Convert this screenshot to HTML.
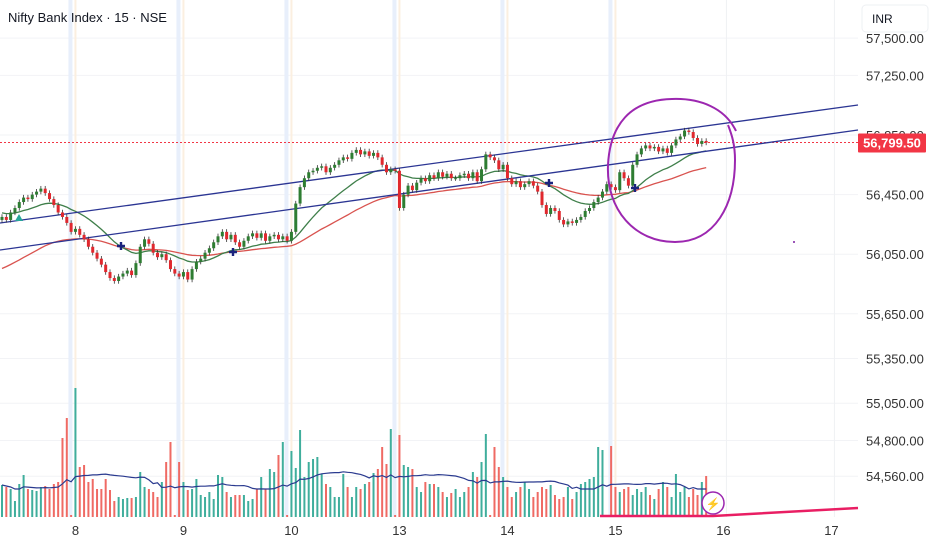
<!DOCTYPE html>
<html><head><meta charset="utf-8">
<style>
html,body{margin:0;padding:0;background:#fff;width:932px;height:550px;overflow:hidden;font-family:"Liberation Sans",sans-serif}
svg{display:block}
</style></head>
<body>
<svg id="chart" width="932" height="550" xmlns="http://www.w3.org/2000/svg">
<text x="8" y="22" font-size="13" fill="#131722">Nifty Bank Index · 15 · NSE</text>
<rect x="862" y="5" width="66" height="27" rx="4" fill="#fff" stroke="#eef0f3"/>
<text x="872" y="23" font-size="12" fill="#131722">INR</text>
</svg>
<script>
const closes=[56300,56280,56330,56360,56400,56430,56420,56450,56470,56490,56460,
56420,56380,56330,56300,56260,56200,56220,56180,56150,56100,
56060,56020,55980,55930,55890,55870,55900,55920,55940,55910,55990,56100,
56150,56120,56060,56030,56050,56010,55950,55920,55900,55930,55880,55950,
56000,56020,56060,56090,56130,56170,56200,56150,56180,56130,56100,56140,
56170,56190,56160,56190,56140,56170,56180,56150,56170,56140,56200,
56390,56500,56560,56600,56610,56630,56640,56600,56630,
56650,56680,56700,56690,56730,56750,56720,56740,56710,56730,56700,56650,
56600,56620,56610,56360,56450,56510,56480,
56530,56560,56540,56580,56560,56600,56570,56590,56560,
56560,56580,56590,56560,56600,56540,56620,56720,56700,56680,56620,
56650,56560,56520,56540,56500,56520,56540,56510,56470,56380,
56320,56360,56340,56280,56250,56270,56260,56280,56300,56340,56360,
56400,56430,56470,56520,56500,56480,56600,56560,56510,56650,56720,56760,
56780,56760,56770,56740,56760,56730,56780,56820,56840,56880,56870,
56830,56790,56810,56799.5];
const volumes=[32,30,28,16,33,42,28,27,26,30,
31,28,33,35,79,99,2,129,50,52,
35,38,28,28,38,27,16,20,18,19,
19,20,45,30,28,25,20,35,55,75,
2,55,35,27,28,38,22,20,25,18,
42,40,25,20,22,22,22,16,18,28,
40,28,48,45,62,75,2,66,49,87,
40,55,58,60,43,33,30,20,20,43,
30,20,30,28,33,35,44,48,70,53,
88,2,82,52,50,48,30,25,35,33,
33,30,25,20,24,28,20,25,30,45,
40,55,83,2,70,50,40,30,20,25,
30,35,28,20,25,30,28,32,22,18,
20,30,18,25,33,35,38,40,70,67,
2,71,30,25,28,30,22,28,25,30,
22,18,28,35,30,20,43,25,30,20,
28,22,35,41];
const priceTicks=[57500,57250,56850,56450,56050,55650,55350,55050,54800,54560];
const tickLabels=["57,500.00","57,250.00","56,850.00","56,450.00","56,050.00","55,650.00","55,350.00","55,050.00","54,800.00","54,560.00"];
const dayLabels=["8","9","10","13","14","15","16","17"];
const lastPrice=56799.5;

const svg=document.getElementById('chart');
const NS='http://www.w3.org/2000/svg';
const xOf=i=>2+i*4.32;
const yOf=p=>135+(56850-p)*0.149;
const vBase=517, vScale=1;
const vy=v=>vBase-v*vScale;
function mk(tag,attrs,parent){const e=document.createElementNS(NS,tag);for(const k in attrs)e.setAttribute(k,attrs[k]);(parent||svg).appendChild(e);return e;}
const first=svg.firstChild;
const bg=document.createElementNS(NS,'g');svg.insertBefore(bg,first);

// grid
priceTicks.forEach((p,k)=>{
 const l=mk('line',{x1:0,x2:858,y1:yOf(p),y2:yOf(p),stroke:'#f2f3f6','stroke-width':1},bg);
 
 
 const t=mk('text',{x:866,y:yOf(p)+5,'font-size':13,fill:'#333'});
 t.textContent=tickLabels[k];
 
 
});
dayLabels.forEach((d,k)=>{
 const x=xOf(17+25*k);
 if(k<6){
  const b=mk('rect',{x:x-7,y:0,width:4,height:517,fill:'#e8effb'},bg);
  
  
  const o=mk('rect',{x:x-1,y:0,width:2,height:517,fill:'#fbefe0'},bg);
  
  
 } else {
  const g=mk('line',{x1:x+3,x2:x+3,y1:0,y2:517,stroke:'#f0f1f4'},bg);
  
  
 }
 const t=mk('text',{x:x,y:535,'font-size':13,fill:'#333','text-anchor':'middle'});
 t.textContent=d;
 
 
});

// last price line
const pl=mk('line',{x1:0,x2:858,y1:yOf(lastPrice),y2:yOf(lastPrice),stroke:'#f23645','stroke-width':1,'stroke-dasharray':'2,2'});


const pb=mk('rect',{x:858,y:yOf(lastPrice)-9,width:68,height:19,fill:'#f23645',rx:1});


const pt=mk('text',{x:892,y:yOf(lastPrice)+5,'font-size':13,'font-weight':'bold',fill:'#fff','text-anchor':'middle'});
pt.textContent='56,799.50';



// volume
volumes.forEach((v,i)=>{
 const o=i>0?closes[i-1]:closes[0];
 const up=closes[i]>=o;
 const r=mk('rect',{x:xOf(i)-1,y:vy(v),width:2,height:v*vScale,fill:up?'#3fae9c':'#ef6a64'});
 
 
});
let vp='';
volumes.forEach((v,i)=>{const s=volumes.slice(Math.max(0,i-19),i+1);const m=s.reduce((a,b)=>a+b,0)/s.length;vp+=(i?'L':'M')+xOf(i).toFixed(1)+','+vy(Math.max(m,28)).toFixed(1);});
const vl=mk('path',{d:vp,fill:'none',stroke:'#2a3a8f','stroke-width':1.2});



// EMAs
function ema(n,seed){let e=seed,out=[];closes.forEach(c=>{e=e+(c-e)*2/(n+1);out.push(e);});return out;}
const e20=ema(20,56330), e50=ema(50,55940);
[[e50,'#d9534f','ema-50-line'],[e20,'#3f7f4a','ema-20-line']].forEach(([arr,c,n])=>{
 let d='';arr.forEach((v,i)=>{d+=(i?'L':'M')+xOf(i).toFixed(1)+','+yOf(v).toFixed(1);});
 const p=mk('path',{d:d,fill:'none',stroke:c,'stroke-width':1.3});
 
 
});

// trend lines
const tl1=mk('line',{x1:0,y1:223,x2:858,y2:105,stroke:'#2b3593','stroke-width':1.3});


const tl2=mk('line',{x1:0,y1:250,x2:858,y2:130,stroke:'#2b3593','stroke-width':1.3});



// candles
closes.forEach((c,i)=>{
 const o=i>0?closes[i-1]:closes[0]-20;
 const up=c>=o;const col=up?'#2e7d32':'#e0282e';
 const hi=Math.max(o,c)+18, lo=Math.min(o,c)-18;
 const w=mk('line',{x1:xOf(i),x2:xOf(i),y1:yOf(hi),y2:yOf(lo),stroke:'#333','stroke-width':0.8});
 
 
 const top=yOf(Math.max(o,c)),h=Math.max(1,yOf(Math.min(o,c))-top);
 const r=mk('rect',{x:xOf(i)-1.5,y:top,width:3,height:h,fill:col});
 
 
});

// markers
[[121,246],[233,252],[549,183],[635,188]].forEach(([x,y])=>{
 const p=mk('path',{d:`M${x-4},${y}H${x+4}M${x},${y-4}V${y+4}`,stroke:'#1a237e','stroke-width':2.4});
 
 
});
const tri=mk('path',{d:'M15,221L19,214L23,221Z',fill:'#26a69a'});



// drawn circle
const ci=mk('path',{d:'M736,131 C725,108 700,98 672,99 C630,100 610,125 608,165 C606,210 635,242 675,242 C715,242 735,205 735,160 C735,145 732,135 728,125',fill:'none',stroke:'#9c27b0','stroke-width':2});


const dot=mk('circle',{cx:794,cy:242,r:1,fill:'#7b1fa2'});



// bottom pink line
const pk=mk('path',{d:'M600,516L713,516L858,508',fill:'none',stroke:'#e91e63','stroke-width':2.5});


const lc=mk('circle',{cx:713,cy:503,r:11,fill:'#fff',stroke:'#9c27b0','stroke-width':1.5});


const lt=mk('text',{x:713,y:508,'font-size':12,fill:'#9c27b0','text-anchor':'middle'});
lt.textContent='⚡';


</script>
</body></html>
